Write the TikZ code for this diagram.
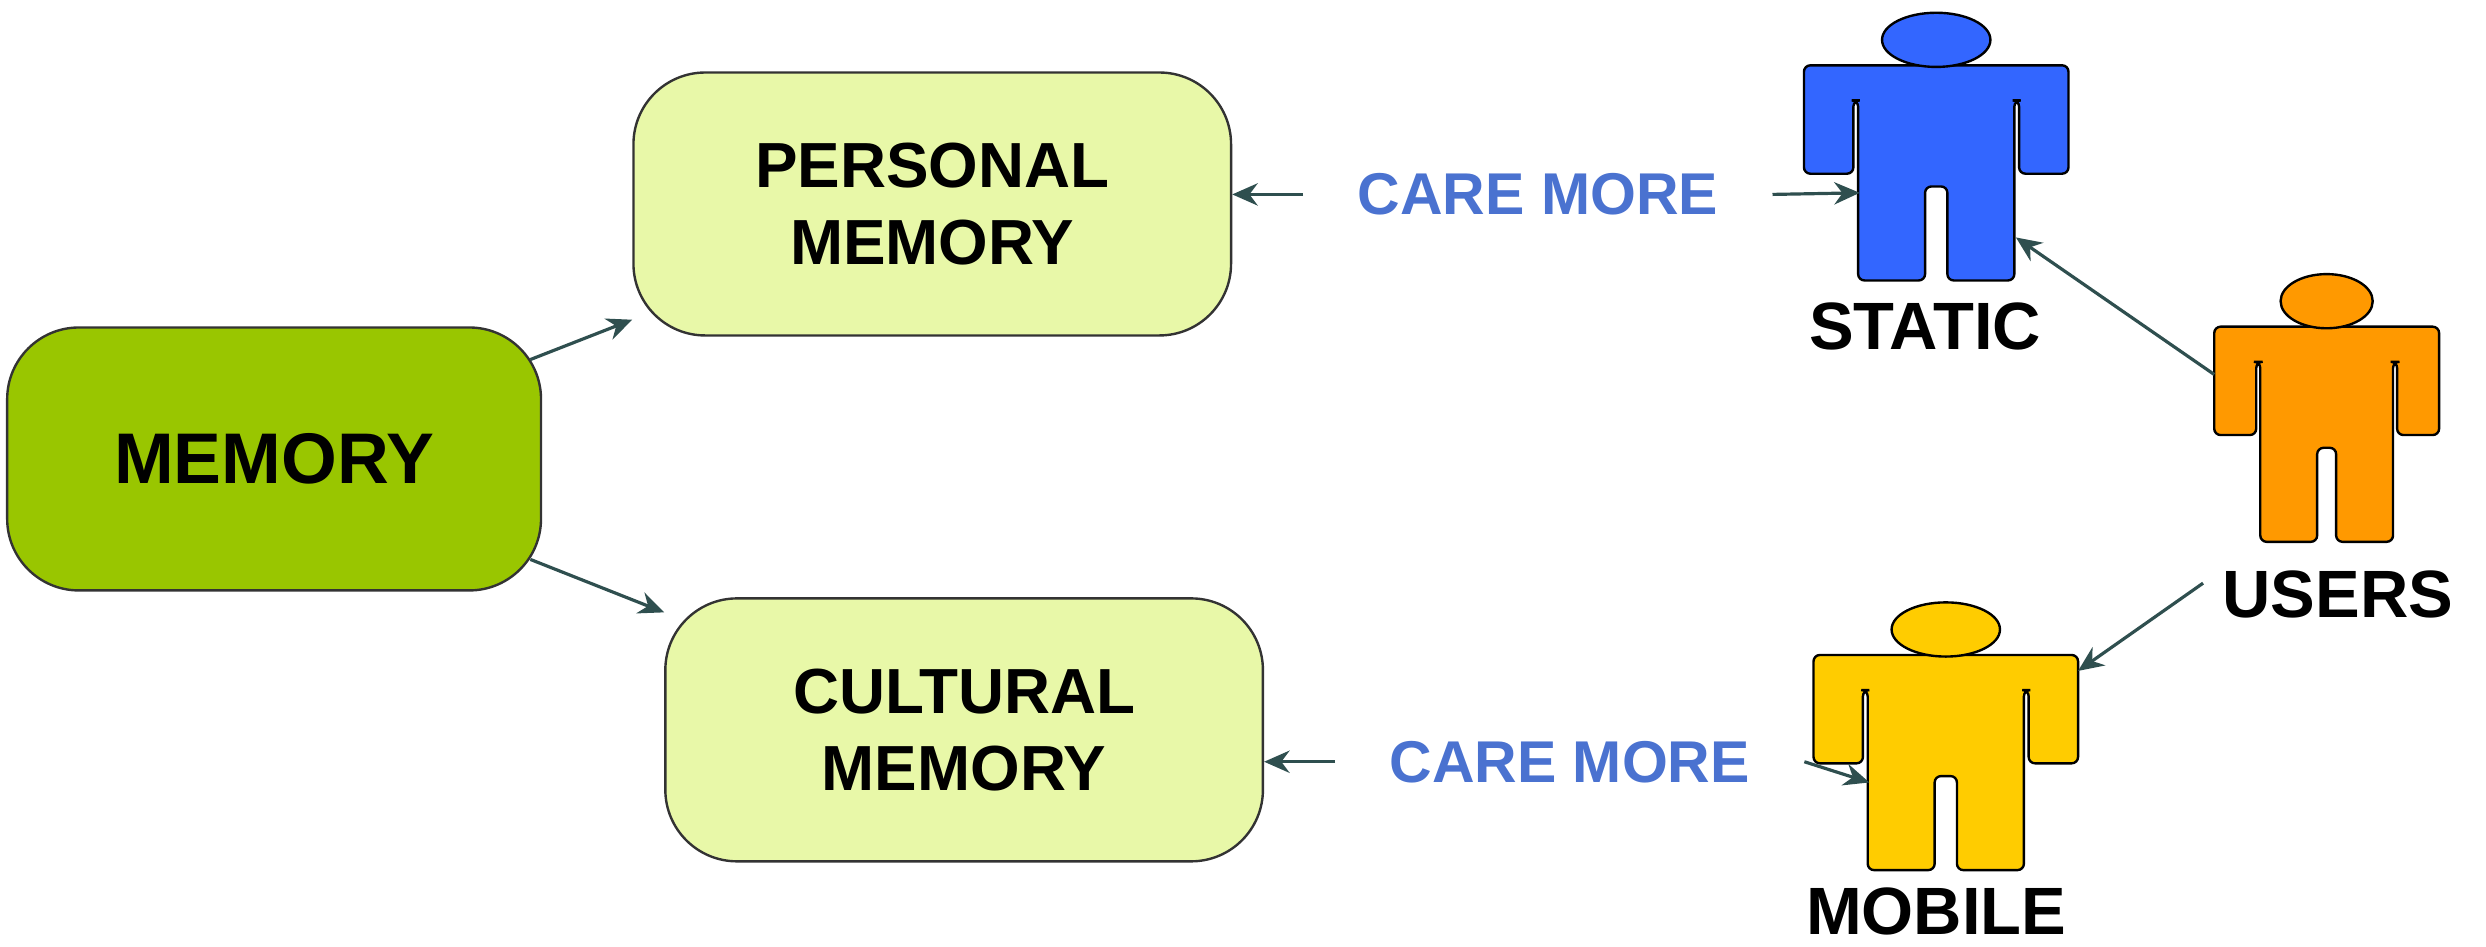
\documentclass[tikz,border=0pt]{standalone}
\usepackage{fontspec}
\setmainfont{Liberation Sans}
\usetikzlibrary{arrows.meta}

\definecolor{memgreen}{HTML}{99C600}
\definecolor{memlight}{HTML}{E8F8A8}
\definecolor{careblue}{HTML}{4A72D0}
\definecolor{arrowgray}{HTML}{2F4F4F}
\definecolor{staticblue}{HTML}{3366FF}
\definecolor{usersorange}{HTML}{FF9900}
\definecolor{mobileyellow}{HTML}{FFCC00}

\tikzset{
  box/.style={draw=black!80, line width=1.5pt, rounded corners=45pt,
    align=center, font=\fontsize{40}{48}\selectfont\bfseries},
  care/.style={text=careblue, font=\fontsize{37}{42}\selectfont\bfseries, inner sep=34pt},
  label/.style={font=\fontsize{42}{46}\selectfont\bfseries, inner sep=0pt},
  arr/.style={-{Stealth[length=16pt,width=14pt]}, arrowgray, line width=2pt},
  pics/person/.style={code={
    \draw[fill=#1, line width=1.5pt, rounded corners=4pt]
      (-83,0) -- (83,0) -- (83,68) -- (52,68) -- (52,22) -- (49,22) -- (49,135)
      -- (7,135) -- (7,76) -- (-7,76) -- (-7,135) -- (-49,135) -- (-49,22)
      -- (-52,22) -- (-52,68) -- (-83,68) -- cycle;
    \draw[fill=#1, line width=1.5pt] (0,-16) ellipse (34 and 17);
    \coordinate (-l) at (-48,80);
    \coordinate (-r) at (50,108);
    \coordinate (-arm) at (83,10);
    \coordinate (-sh) at (-83,30);
  }}
}

\begin{document}
\begin{tikzpicture}[x=1pt,y=-1pt]

        \useasboundingbox (0,0) rectangle (1560,594);

        % Boxes
        \node[box, fill=memgreen, minimum width=335pt, minimum height=165pt,
          font=\fontsize{45}{52}\selectfont\bfseries] (memory) at (172,288) {MEMORY};
        \node[box, fill=memlight, minimum width=375pt, minimum height=165pt] (personal) at (585,128) {PERSONAL\\MEMORY};
        \node[box, fill=memlight, minimum width=375pt, minimum height=165pt] (cultural) at (605,458) {CULTURAL\\MEMORY};

        % Users
        \pic (static) at (1215,41) {person=staticblue};
        \pic[xscale=0.85] (users) at (1460,205) {person=usersorange};
        \pic (mobile) at (1221,411) {person=mobileyellow};

        \node[label] (staticlabel) at (1208,205) {STATIC};
        \node[label] (userslabel) at (1467,373) {USERS};
        \node[label] (mobilelabel) at (1215,572) {MOBILE};

        % Care more
        \node[care] (care1) at (965,122) {CARE MORE};
        \node[care] (care2) at (985,478) {CARE MORE};

        % Arrows
        \draw[arr, shorten <=-8pt] (memory) -- (personal);
        \draw[arr, shorten <=-8pt] (memory) -- (cultural);
        \draw[arr] (care1) -- (personal.east |- care1);
        \draw[arr] (care1.east) -- (static-l);
        \draw[arr] (care2.west) -- (cultural.east |- care2.west);
        \draw[arr] (care2.east) -- (mobile-l);
        \draw[arr] (users-sh) -- (static-r);
        \draw[arr] ([xshift=-12pt,yshift=-8pt]userslabel.north west) -- (mobile-arm);

\end{tikzpicture}
\end{document}
